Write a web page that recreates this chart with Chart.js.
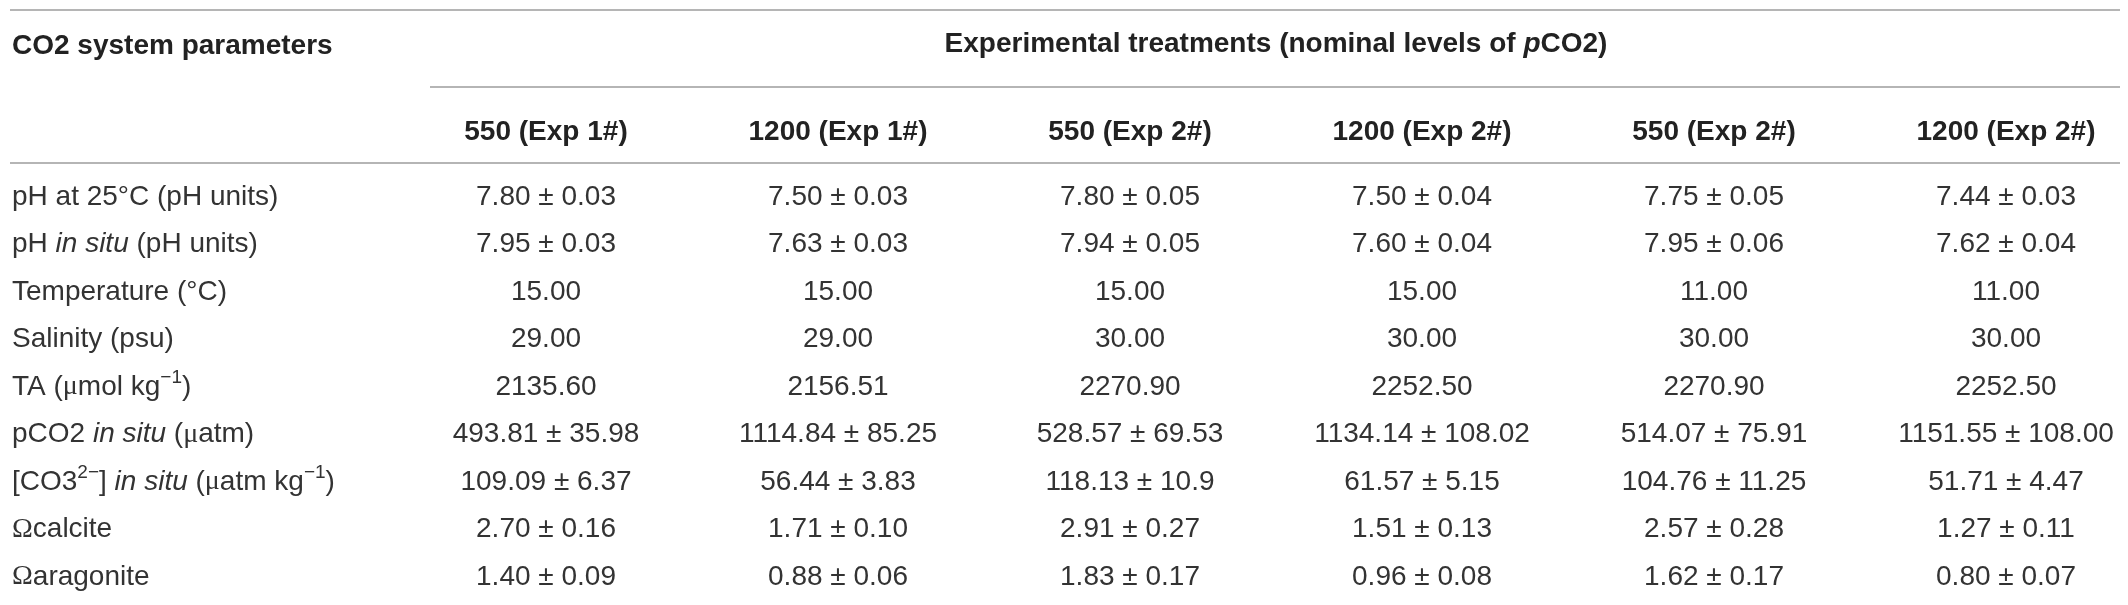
<!DOCTYPE html>
<html>
<head>
<meta charset="UTF-8">
<title>CO2 system parameters</title>
<style>
  body { margin: 0; background: #fff; }
  .wrap { width: 2128px; height: 605px; position: relative; }
</style>
</head>
<body>
<div class="wrap"><canvas id="tableChart"></canvas></div>
<script src="https://cdn.jsdelivr.net/npm/chart.js"></script>
<script>
// column headers (treatments, nominal pCO2)
const treatments = ['550 (Exp 1#)', '1200 (Exp 1#)', '550 (Exp 2#)', '1200 (Exp 2#)', '550 (Exp 2#)', '1200 (Exp 2#)'];
const cornerTitle = 'CO2 system parameters';
const spanTitle = [{ t: 'Experimental treatments (nominal levels of ' }, { t: 'p', it: true }, { t: 'CO2)' }];

// row labels, written as text runs (italic / superscript / symbol)
const params = [
  [{ t: 'pH at 25°C (pH units)' }],
  [{ t: 'pH ' }, { t: 'in situ', it: true }, { t: ' (pH units)' }],
  [{ t: 'Temperature (°C)' }],
  [{ t: 'Salinity (psu)' }],
  [{ t: 'TA (' }, { t: 'μ', serif: true }, { t: 'mol kg' }, { t: '−1', sup: true }, { t: ')' }],
  [{ t: 'pCO2 ' }, { t: 'in situ', it: true }, { t: ' (' }, { t: 'μ', serif: true }, { t: 'atm)' }],
  [{ t: '[CO3' }, { t: '2−', sup: true }, { t: '] ' }, { t: 'in situ', it: true }, { t: ' (' }, { t: 'μ', serif: true }, { t: 'atm kg' }, { t: '−1', sup: true }, { t: ')' }],
  [{ t: 'Ω', serif: true }, { t: 'calcite' }],
  [{ t: 'Ω', serif: true }, { t: 'aragonite' }]
];

// means and standard deviations per treatment column
const exp1_550_mean = ['7.80', '7.95', '15.00', '29.00', '2135.60', '493.81', '109.09', '2.70', '1.40'];
const exp1_550_sd = ['0.03', '0.03', null, null, null, '35.98', '6.37', '0.16', '0.09'];
const exp1_1200_mean = ['7.50', '7.63', '15.00', '29.00', '2156.51', '1114.84', '56.44', '1.71', '0.88'];
const exp1_1200_sd = ['0.03', '0.03', null, null, null, '85.25', '3.83', '0.10', '0.06'];
const exp2a_550_mean = ['7.80', '7.94', '15.00', '30.00', '2270.90', '528.57', '118.13', '2.91', '1.83'];
const exp2a_550_sd = ['0.05', '0.05', null, null, null, '69.53', '10.9', '0.27', '0.17'];
const exp2a_1200_mean = ['7.50', '7.60', '15.00', '30.00', '2252.50', '1134.14', '61.57', '1.51', '0.96'];
const exp2a_1200_sd = ['0.04', '0.04', null, null, null, '108.02', '5.15', '0.13', '0.08'];
const exp2b_550_mean = ['7.75', '7.95', '11.00', '30.00', '2270.90', '514.07', '104.76', '2.57', '1.62'];
const exp2b_550_sd = ['0.05', '0.06', null, null, null, '75.91', '11.25', '0.28', '0.17'];
const exp2b_1200_mean = ['7.44', '7.62', '11.00', '30.00', '2252.50', '1151.55', '51.71', '1.27', '0.80'];
const exp2b_1200_sd = ['0.03', '0.04', null, null, null, '108.00', '4.47', '0.11', '0.07'];

const columns = [
  [exp1_550_mean, exp1_550_sd],
  [exp1_1200_mean, exp1_1200_sd],
  [exp2a_550_mean, exp2a_550_sd],
  [exp2a_1200_mean, exp2a_1200_sd],
  [exp2b_550_mean, exp2b_550_sd],
  [exp2b_1200_mean, exp2b_1200_sd]
];

const TEXT = '#222222';
const BODY = '#333333';
const RULE = '#b5b5b5';
const SIZE = 28;

function drawRuns(ctx, runs, x, y, weight, align) {
  const pieces = runs.map(r => {
    const s = r.sup ? SIZE * 0.68 : SIZE;
    const fam = r.serif ? '"Liberation Serif", serif' : '"Liberation Sans", Arial, sans-serif';
    const font = (r.it ? 'italic ' : '') + weight + ' ' + s + 'px ' + fam;
    ctx.font = font;
    return { t: r.t, font: font, w: ctx.measureText(r.t).width, dy: r.sup ? -SIZE * 0.34 : 0 };
  });
  const total = pieces.reduce((a, p) => a + p.w, 0);
  let cx = align === 'center' ? x - total / 2 : x;
  ctx.textAlign = 'left';
  ctx.textBaseline = 'middle';
  pieces.forEach(p => {
    ctx.font = p.font;
    ctx.fillText(p.t, cx, y + p.dy);
    cx += p.w;
  });
}

function rule(ctx, x1, x2, y) {
  ctx.beginPath();
  ctx.moveTo(x1, y);
  ctx.lineTo(x2, y);
  ctx.stroke();
}

const tablePlugin = {
  id: 'tableText',
  afterDatasetsDraw(chart) {
    const ctx = chart.ctx;
    const xs = chart.scales.x;
    const ys = chart.scales.y;
    const top = ys.getPixelForValue(0);
    const firstX = xs.getPixelForValue(0);
    const lastX = xs.getPixelForValue(treatments.length - 1);
    const W = chart.width;
    ctx.save();

    // horizontal rules
    ctx.strokeStyle = RULE;
    ctx.lineWidth = 2;
    rule(ctx, 10, W - 8, top - 187);
    rule(ctx, 430, W - 8, top - 110);
    rule(ctx, 10, W - 8, top - 34);

    // header rows
    ctx.fillStyle = TEXT;
    drawRuns(ctx, [{ t: cornerTitle }], 12, top - 151, 'bold', 'left');
    drawRuns(ctx, spanTitle, (firstX + lastX) / 2, top - 153, 'bold', 'center');
    treatments.forEach((t, i) => {
      drawRuns(ctx, [{ t: t }], xs.getPixelForValue(i), top - 65, 'bold', 'center');
    });

    // row labels
    ctx.fillStyle = BODY;
    params.forEach((runs, j) => {
      drawRuns(ctx, runs, 12, ys.getPixelForValue(j), 'normal', 'left');
    });

    // cells at each point position
    chart.data.datasets.forEach((ds, i) => {
      const meta = chart.getDatasetMeta(i);
      meta.data.forEach((pt, j) => {
        const raw = ds.data[j];
        const txt = raw.sd ? raw.mean + ' ± ' + raw.sd : raw.mean;
        drawRuns(ctx, [{ t: txt }], pt.x, pt.y, 'normal', 'center');
      });
    });
    ctx.restore();
  }
};

const datasets = columns.map((col, i) => ({
  label: treatments[i],
  data: col[0].map((m, j) => ({ x: i, y: j, mean: m, sd: col[1][j] })),
  pointRadius: 0,
  pointHoverRadius: 0,
  showLine: false
}));

new Chart(document.getElementById('tableChart'), {
  type: 'scatter',
  data: { datasets: datasets },
  options: {
    responsive: true,
    maintainAspectRatio: false,
    animation: false,
    layout: { padding: { left: 546, right: 122, top: 197, bottom: 28 } },
    scales: {
      x: { type: 'linear', min: 0, max: treatments.length - 1, display: false },
      y: { type: 'linear', min: 0, max: params.length - 1, reverse: true, display: false }
    },
    plugins: { legend: { display: false }, tooltip: { enabled: false } }
  },
  plugins: [tablePlugin]
});
</script>
</body>
</html>
